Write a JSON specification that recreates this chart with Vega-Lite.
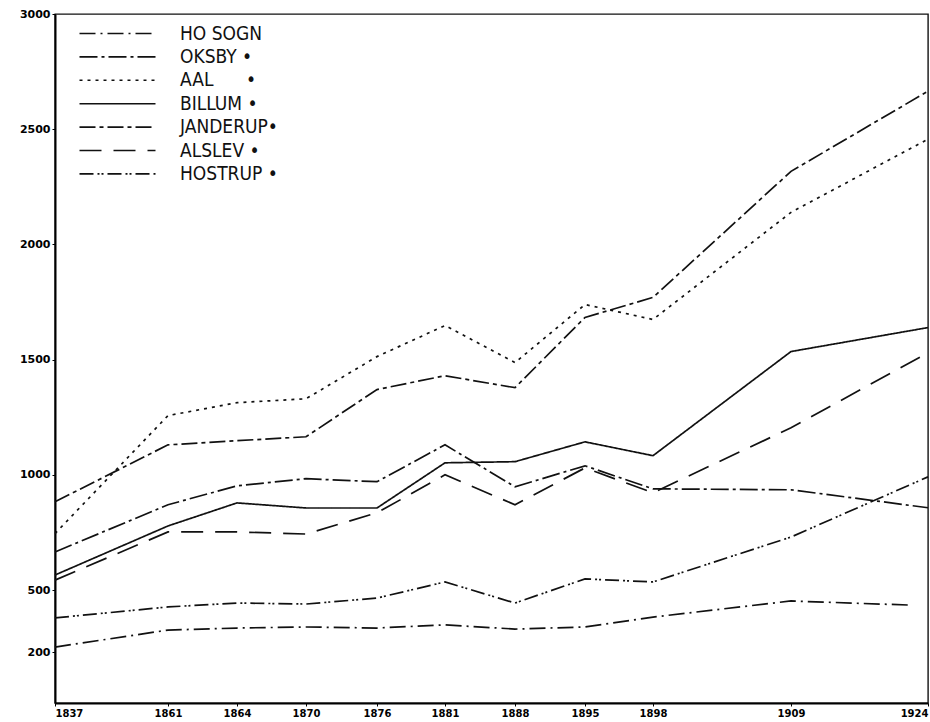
{
  "$schema": "https://vega.github.io/schema/vega-lite/v6.json",
  "width": 873,
  "height": 689,
  "autosize": "none",
  "padding": {"left": 55, "top": 14, "right": 2, "bottom": 19},
  "background": "white",
  "config": {
    "view": {"stroke": "#111", "strokeWidth": 1.4},
    "font": "DejaVu Sans",
    "axis": {"domainColor": "#000", "domainWidth": 2, "tickColor": "#000", "labelColor": "#000", "labelFont": "DejaVu Sans", "labelFontWeight": "bold", "labelFontSize": 10, "grid": false, "title": null}
  },
  "data": {
    "values": [
      {"parish": "HO SOGN", "year": 1837, "pop": 224},
      {"parish": "HO SOGN", "year": 1861, "pop": 306},
      {"parish": "HO SOGN", "year": 1864, "pop": 316},
      {"parish": "HO SOGN", "year": 1870, "pop": 321},
      {"parish": "HO SOGN", "year": 1876, "pop": 316},
      {"parish": "HO SOGN", "year": 1881, "pop": 331},
      {"parish": "HO SOGN", "year": 1888, "pop": 311},
      {"parish": "HO SOGN", "year": 1895, "pop": 321},
      {"parish": "HO SOGN", "year": 1898, "pop": 369},
      {"parish": "HO SOGN", "year": 1909, "pop": 447},
      {"parish": "HO SOGN", "year": 1922, "pop": 427},
      {"parish": "OKSBY", "year": 1837, "pop": 665},
      {"parish": "OKSBY", "year": 1861, "pop": 870},
      {"parish": "OKSBY", "year": 1864, "pop": 952},
      {"parish": "OKSBY", "year": 1870, "pop": 983},
      {"parish": "OKSBY", "year": 1876, "pop": 970},
      {"parish": "OKSBY", "year": 1881, "pop": 1130},
      {"parish": "OKSBY", "year": 1888, "pop": 948},
      {"parish": "OKSBY", "year": 1895, "pop": 1039},
      {"parish": "OKSBY", "year": 1898, "pop": 939},
      {"parish": "OKSBY", "year": 1909, "pop": 935},
      {"parish": "OKSBY", "year": 1924, "pop": 857},
      {"parish": "AAL", "year": 1837, "pop": 745},
      {"parish": "AAL", "year": 1861, "pop": 1257},
      {"parish": "AAL", "year": 1864, "pop": 1313},
      {"parish": "AAL", "year": 1870, "pop": 1330},
      {"parish": "AAL", "year": 1876, "pop": 1513},
      {"parish": "AAL", "year": 1881, "pop": 1648},
      {"parish": "AAL", "year": 1888, "pop": 1487},
      {"parish": "AAL", "year": 1895, "pop": 1739},
      {"parish": "AAL", "year": 1898, "pop": 1674},
      {"parish": "AAL", "year": 1909, "pop": 2139},
      {"parish": "AAL", "year": 1924, "pop": 2457},
      {"parish": "BILLUM", "year": 1837, "pop": 565},
      {"parish": "BILLUM", "year": 1861, "pop": 778},
      {"parish": "BILLUM", "year": 1864, "pop": 878},
      {"parish": "BILLUM", "year": 1870, "pop": 856},
      {"parish": "BILLUM", "year": 1876, "pop": 856},
      {"parish": "BILLUM", "year": 1881, "pop": 1052},
      {"parish": "BILLUM", "year": 1888, "pop": 1057},
      {"parish": "BILLUM", "year": 1895, "pop": 1143},
      {"parish": "BILLUM", "year": 1898, "pop": 1083},
      {"parish": "BILLUM", "year": 1909, "pop": 1535},
      {"parish": "BILLUM", "year": 1924, "pop": 1639},
      {"parish": "JANDERUP", "year": 1837, "pop": 883},
      {"parish": "JANDERUP", "year": 1861, "pop": 1130},
      {"parish": "JANDERUP", "year": 1864, "pop": 1148},
      {"parish": "JANDERUP", "year": 1870, "pop": 1165},
      {"parish": "JANDERUP", "year": 1876, "pop": 1370},
      {"parish": "JANDERUP", "year": 1881, "pop": 1430},
      {"parish": "JANDERUP", "year": 1888, "pop": 1378},
      {"parish": "JANDERUP", "year": 1895, "pop": 1683},
      {"parish": "JANDERUP", "year": 1898, "pop": 1770},
      {"parish": "JANDERUP", "year": 1909, "pop": 2317},
      {"parish": "JANDERUP", "year": 1924, "pop": 2665},
      {"parish": "ALSLEV", "year": 1837, "pop": 543},
      {"parish": "ALSLEV", "year": 1861, "pop": 752},
      {"parish": "ALSLEV", "year": 1864, "pop": 752},
      {"parish": "ALSLEV", "year": 1870, "pop": 743},
      {"parish": "ALSLEV", "year": 1876, "pop": 835},
      {"parish": "ALSLEV", "year": 1881, "pop": 1000},
      {"parish": "ALSLEV", "year": 1888, "pop": 870},
      {"parish": "ALSLEV", "year": 1895, "pop": 1030},
      {"parish": "ALSLEV", "year": 1898, "pop": 922},
      {"parish": "ALSLEV", "year": 1909, "pop": 1204},
      {"parish": "ALSLEV", "year": 1924, "pop": 1530},
      {"parish": "HOSTRUP", "year": 1837, "pop": 365},
      {"parish": "HOSTRUP", "year": 1861, "pop": 418},
      {"parish": "HOSTRUP", "year": 1864, "pop": 437},
      {"parish": "HOSTRUP", "year": 1870, "pop": 432},
      {"parish": "HOSTRUP", "year": 1876, "pop": 461},
      {"parish": "HOSTRUP", "year": 1881, "pop": 535},
      {"parish": "HOSTRUP", "year": 1888, "pop": 437},
      {"parish": "HOSTRUP", "year": 1895, "pop": 548},
      {"parish": "HOSTRUP", "year": 1898, "pop": 535},
      {"parish": "HOSTRUP", "year": 1909, "pop": 730},
      {"parish": "HOSTRUP", "year": 1924, "pop": 991}
    ]
  },
  "mark": {"type": "line", "color": "#111", "strokeWidth": 1.7},
  "encoding": {
    "x": {
      "field": "year",
      "type": "quantitative",
      "scale": {
        "domain": [1837, 1861, 1864, 1870, 1876, 1881, 1888, 1895, 1898, 1909, 1924],
        "range": [0, 113, 182, 251, 322, 390, 460, 530, 598, 736, 873],
        "nice": false,
        "zero": false
      },
      "axis": {
        "values": [1837, 1861, 1864, 1870, 1876, 1881, 1888, 1895, 1898, 1909, 1924],
        "labelExpr": "'' + datum.value",
        "labelFlush": true,
        "tickSize": 3,
        "labelPadding": 2
      }
    },
    "y": {
      "field": "pop",
      "type": "quantitative",
      "scale": {
        "domain": [-47, 200, 500, 3000],
        "range": [689, 638, 576, 0],
        "nice": false,
        "zero": false
      },
      "axis": {
        "values": [200, 500, 1000, 1500, 2000, 2500, 3000],
        "labelExpr": "'' + datum.value",
        "tickSize": 3,
        "labelPadding": 2,
        "labelFontSize": 11
      }
    },
    "strokeDash": {
      "field": "parish",
      "type": "nominal",
      "scale": {
        "domain": ["HO SOGN", "OKSBY", "AAL", "BILLUM", "JANDERUP", "ALSLEV", "HOSTRUP"],
        "range": [[16, 5, 2, 5], [18, 4, 3, 4], [3, 5], [1, 0], [16, 4, 4, 4], [22, 12], [14, 4, 2, 2, 2, 4]]
      },
      "legend": {
        "title": null,
        "orient": "none",
        "legendX": 52,
        "legendY": 9,
        "symbolType": "M-4,0H4",
        "symbolSize": 361,
        "symbolStrokeColor": "#111",
        "symbolStrokeWidth": 1.6,
        "labelFont": "Liberation Sans Narrow, DejaVu Sans Condensed, DejaVu Sans",
        "labelFontSize": 19,
        "labelColor": "#111",
        "labelOffset": 52,
        "rowPadding": 2.4,
        "labelExpr": "datum.label == 'HO SOGN' ? datum.label : datum.label == 'AAL' ? 'AAL\u00a0\u00a0\u00a0\u00a0\u00a0\u00a0•' : datum.label == 'JANDERUP' ? 'JANDERUP•' : datum.label + ' •'"
      }
    }
  }
}
